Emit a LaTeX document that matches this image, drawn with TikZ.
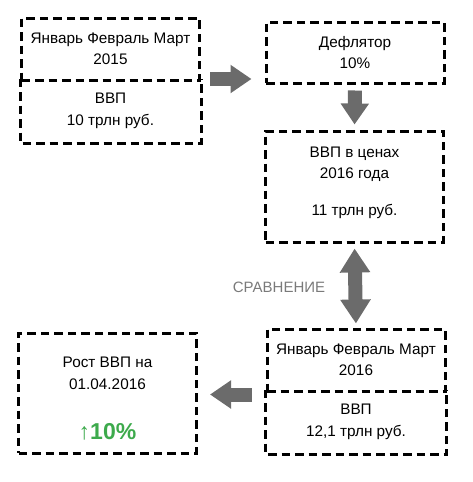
\documentclass[tikz,border=0pt]{standalone}
\usepackage{fontspec}
\setmainfont{Liberation Sans}
\usetikzlibrary{arrows.meta,positioning}

\definecolor{arrowgray}{HTML}{6B6B6B}
\definecolor{labelgray}{HTML}{7A7A7A}
\definecolor{growgreen}{HTML}{3DAA4C}

\tikzset{
  boxline/.style={line width=3pt, dash pattern=on 8.5pt off 5pt},
  databox/.style={boxline, draw, minimum width=178pt, inner sep=0pt,
    align=center, font=\fontsize{15.3}{21.5}\selectfont},
  halfbox/.style={databox, draw=none, minimum height=62pt},
  bigarrow/.style={line width=14pt, draw=arrowgray,
    -{Triangle[length=21pt,width=27pt,fill=arrowgray]}},
  botharrow/.style={bigarrow,
    {Triangle[length=24pt,width=29pt,fill=arrowgray]}-{Triangle[length=24pt,width=29pt,fill=arrowgray]}},
}

\begin{document}
\begin{tikzpicture}[x=1pt,y=-1pt]
%
\useasboundingbox (0,0) rectangle (473,482);
%
% first quarter 2015
\node[databox, minimum height=62pt] (jan15) at (110.5,49) {Январь Февраль Март\\2015};
\node[halfbox] (gdp15) at (110.5,111) {ВВП\\10 трлн руб.};
\draw[boxline] (gdp15.north west) -- (gdp15.south west) -- (gdp15.south east) -- (gdp15.north east);
%
% deflator and real gdp
\node[databox, minimum height=61pt] (defl) at (355,52.5) {Дефлятор\\10\%};
\node[databox, minimum height=111pt] (real16) at (354.5,186.5)
  {ВВП в ценах\\2016 года\\[15pt]11 трлн руб.\rule[-11pt]{0pt}{11pt}};
%
% first quarter 2016
\node[databox, minimum height=62pt] (jan16) at (356,360) {Январь Февраль Март\\2016};
\node[halfbox] (gdp16) at (356,422) {ВВП\\12,1 трлн руб.};
\draw[boxline] (gdp16.north west) -- (gdp16.south west) -- (gdp16.south east) -- (gdp16.north east);
%
% result
\node[databox, minimum height=120pt] (growth) at (107.5,393)
  {\rule{0pt}{22pt}Рост ВВП на\\01.04.2016\\[29pt]{\color{growgreen}\bfseries\fontsize{23}{23}\selectfont ↑10\%}};
%
\node[text=labelgray, font=\fontsize{15}{16}\selectfont] (cmp) at (279,287) {СРАВНЕНИЕ};
%
\draw[bigarrow, shorten <=9pt, shorten >=13pt] ([yshift=2.5pt]jan15.south east) -- ([yshift=2.5pt]jan15.south east -| defl.west);
\draw[bigarrow, shorten <=6pt, shorten >=5pt] (defl.south) -- (real16.north);
\draw[botharrow, shorten <=5pt, shorten >=4pt] (real16.south) -- (jan16.north);
\draw[bigarrow, shorten <=14pt, shorten >=12pt] ([yshift=-2pt]jan16.south west) -- ([yshift=-2pt]jan16.south west -| growth.east);
%
\end{tikzpicture}
\end{document}
